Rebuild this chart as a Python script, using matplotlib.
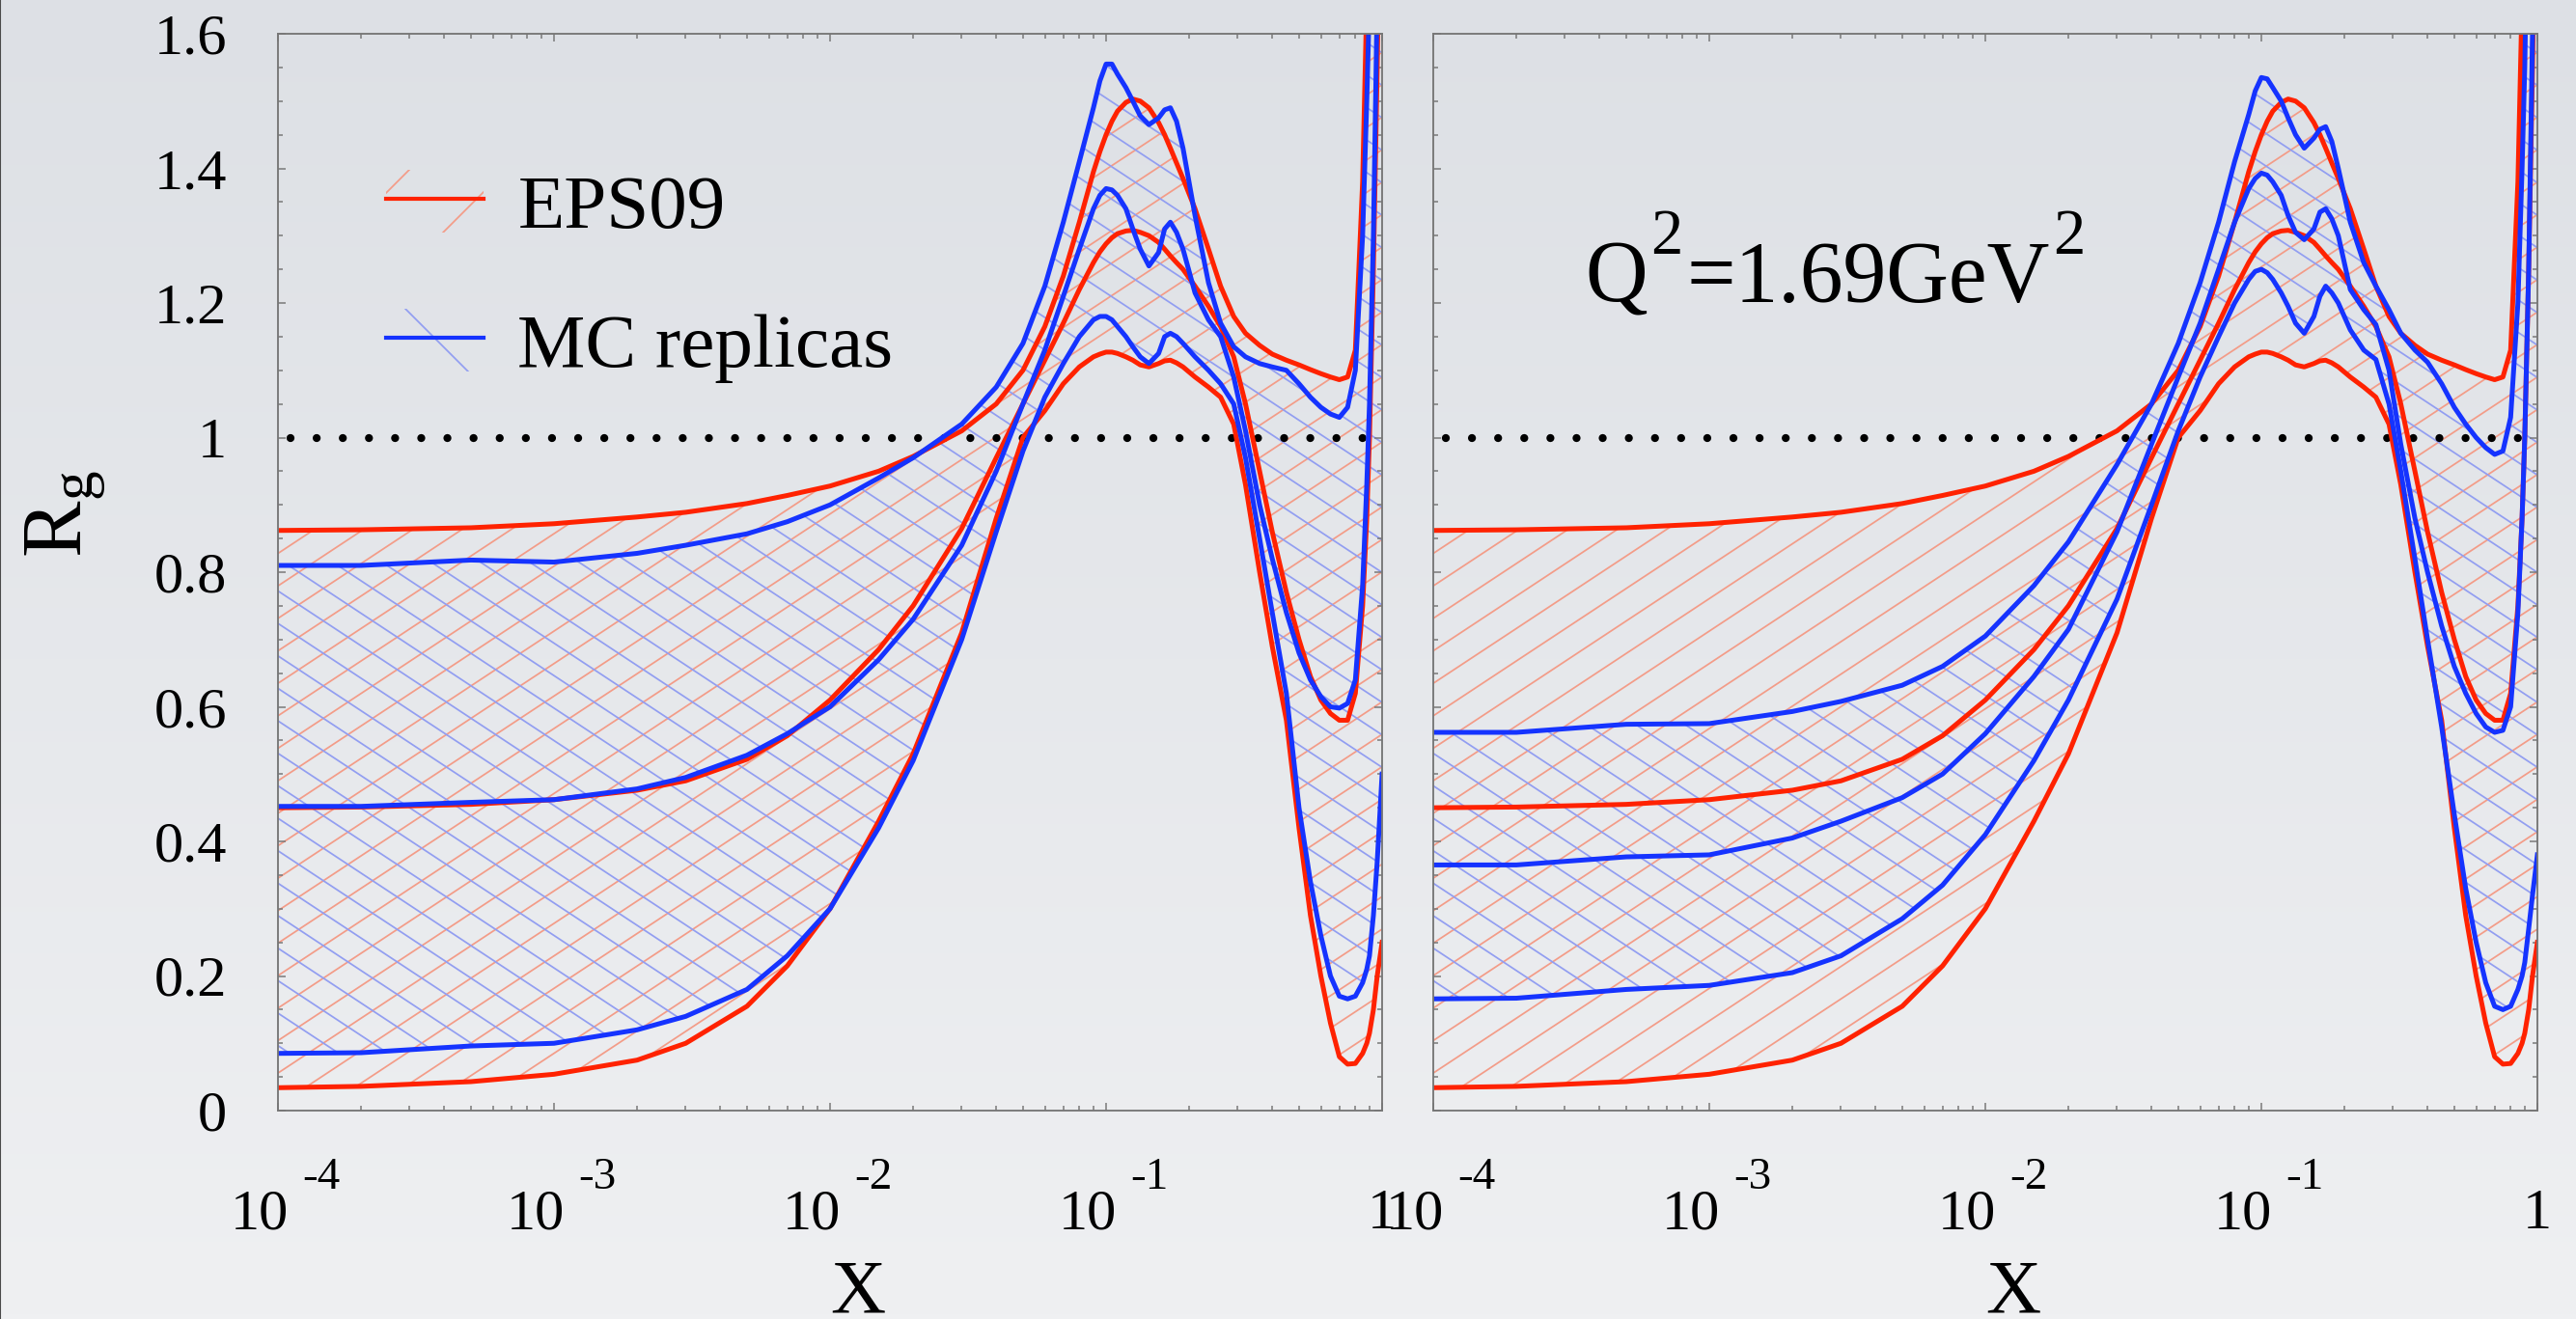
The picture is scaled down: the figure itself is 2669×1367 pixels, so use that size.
import numpy as np
import matplotlib
matplotlib.use("Agg")
import matplotlib.pyplot as plt
from matplotlib.lines import Line2D
from matplotlib.patches import Patch
from matplotlib.collections import LineCollection
from matplotlib.legend_handler import HandlerTuple
from matplotlib.ticker import FixedLocator, FixedFormatter, LogLocator, NullFormatter, MultipleLocator
from matplotlib.colors import LinearSegmentedColormap

# ---------------- data ----------------
X = [1e-4, 2e-4, 5e-4, 1e-3, 2e-3, 3e-3, 5e-3, 7e-3, 0.01, 0.015, 0.02, 0.03, 0.04,
     0.05, 0.06, 0.07, 0.08, 0.09, 0.095, 0.1, 0.105, 0.11, 0.118, 0.125, 0.133, 0.143,
     0.155, 0.163, 0.171, 0.18, 0.19, 0.21, 0.235, 0.26, 0.29, 0.32, 0.36, 0.4, 0.45,
     0.5, 0.55, 0.6, 0.65, 0.7, 0.75, 0.8, 0.85, 0.88, 0.9, 0.93, 0.96, 1.0]

EPS09_UPPER = [0.862, 0.863, 0.866, 0.872, 0.882, 0.889, 0.902, 0.914, 0.928, 0.95, 0.972, 1.01, 1.05,
               1.10, 1.165, 1.24, 1.32, 1.395, 1.425, 1.45, 1.47, 1.485, 1.498, 1.503, 1.50, 1.49,
               1.468, 1.45, 1.43, 1.408, 1.385, 1.34, 1.28, 1.225, 1.18, 1.155, 1.137, 1.124, 1.115,
               1.108, 1.101, 1.095, 1.09, 1.086, 1.09, 1.13, 1.38, 1.65, 1.9, 2.3, 2.6, 3.0]
EPS09_CENTRAL = [0.45, 0.451, 0.455, 0.462, 0.476, 0.49, 0.522, 0.557, 0.61, 0.685, 0.75, 0.865, 0.97,
                 1.05, 1.115, 1.17, 1.22, 1.26, 1.276, 1.288, 1.297, 1.303, 1.307, 1.308, 1.305, 1.30,
                 1.29, 1.28, 1.27, 1.26, 1.25, 1.225, 1.195, 1.165, 1.12, 1.05, 0.95, 0.86, 0.77,
                 0.70, 0.645, 0.61, 0.59, 0.58, 0.58, 0.62, 0.75, 0.88, 1.0, 1.25, 1.55, 2.0]
EPS09_LOWER = [0.034, 0.036, 0.043, 0.054, 0.075, 0.10, 0.155, 0.215, 0.30, 0.43, 0.53, 0.71, 0.88,
               1.0, 1.04, 1.08, 1.105, 1.12, 1.124, 1.127, 1.127, 1.125, 1.12, 1.115, 1.108, 1.105,
               1.11, 1.114, 1.115, 1.111, 1.105, 1.09, 1.075, 1.06, 1.02, 0.93, 0.80, 0.69, 0.58,
               0.42, 0.29, 0.20, 0.13, 0.08, 0.069, 0.07, 0.085, 0.10, 0.115, 0.15, 0.20, 0.25]

MC_LEFT_UPPER = [0.81, 0.81, 0.818, 0.815, 0.828, 0.84, 0.857, 0.875, 0.90, 0.94, 0.97, 1.02, 1.075,
                 1.14, 1.225, 1.32, 1.41, 1.49, 1.53, 1.555, 1.555, 1.54, 1.52, 1.50, 1.478, 1.465,
                 1.475, 1.487, 1.49, 1.47, 1.43, 1.33, 1.23, 1.17, 1.135, 1.12, 1.11, 1.105, 1.10,
                 1.08, 1.06, 1.045, 1.035, 1.03, 1.045, 1.10, 1.30, 1.50, 1.65, 2.0, 2.4, 2.8]
MC_LEFT_CENTRAL = [0.452, 0.452, 0.458, 0.462, 0.478, 0.495, 0.528, 0.56, 0.60, 0.67, 0.73, 0.84, 0.95,
                   1.05, 1.13, 1.21, 1.28, 1.34, 1.36, 1.37, 1.368, 1.36, 1.34, 1.31, 1.28, 1.255,
                   1.275, 1.31, 1.32, 1.305, 1.28, 1.215, 1.175, 1.15, 1.09, 1.01, 0.90, 0.82, 0.74,
                   0.68, 0.64, 0.615, 0.60, 0.598, 0.605, 0.64, 0.78, 0.93, 1.05, 1.30, 1.65, 2.0]
MC_LEFT_LOWER = [0.085, 0.086, 0.096, 0.10, 0.12, 0.14, 0.18, 0.23, 0.30, 0.42, 0.52, 0.70, 0.86,
                 0.98, 1.06, 1.11, 1.15, 1.175, 1.18, 1.18, 1.175, 1.165, 1.15, 1.135, 1.12, 1.11,
                 1.125, 1.15, 1.155, 1.15, 1.14, 1.12, 1.10, 1.08, 1.05, 0.97, 0.85, 0.74, 0.62,
                 0.45, 0.34, 0.26, 0.20, 0.17, 0.166, 0.17, 0.19, 0.21, 0.23, 0.29, 0.37, 0.50]

MC_RIGHT_UPPER = [0.562, 0.562, 0.574, 0.575, 0.593, 0.608, 0.632, 0.66, 0.705, 0.78, 0.845, 0.96, 1.05,
                  1.14, 1.23, 1.32, 1.41, 1.48, 1.515, 1.535, 1.533, 1.52, 1.50, 1.475, 1.45, 1.43,
                  1.445, 1.458, 1.462, 1.44, 1.40, 1.32, 1.26, 1.225, 1.19, 1.155, 1.13, 1.112, 1.08,
                  1.045, 1.02, 1.0, 0.985, 0.975, 0.98, 1.03, 1.20, 1.40, 1.55, 1.90, 2.3, 2.7]
MC_RIGHT_CENTRAL = [0.365, 0.365, 0.377, 0.38, 0.405, 0.43, 0.465, 0.50, 0.56, 0.645, 0.715, 0.86, 0.99,
                    1.09, 1.17, 1.25, 1.32, 1.37, 1.385, 1.393, 1.39, 1.38, 1.36, 1.33, 1.305, 1.294,
                    1.31, 1.335, 1.34, 1.325, 1.30, 1.22, 1.19, 1.168, 1.10, 0.99, 0.88, 0.80, 0.72,
                    0.66, 0.62, 0.59, 0.57, 0.562, 0.565, 0.60, 0.74, 0.88, 1.0, 1.25, 1.6, 2.0]
MC_RIGHT_LOWER = [0.166, 0.167, 0.18, 0.186, 0.205, 0.23, 0.285, 0.335, 0.41, 0.52, 0.61, 0.76, 0.90,
                  1.01, 1.09, 1.15, 1.20, 1.235, 1.247, 1.25, 1.245, 1.235, 1.215, 1.195, 1.17, 1.155,
                  1.18, 1.21, 1.225, 1.215, 1.20, 1.16, 1.13, 1.116, 1.05, 0.95, 0.82, 0.70, 0.57,
                  0.44, 0.33, 0.25, 0.19, 0.155, 0.15, 0.155, 0.18, 0.20, 0.22, 0.27, 0.32, 0.38]

Y_TICKS = [0, 0.2, 0.4, 0.6, 0.8, 1.0, 1.2, 1.4, 1.6]
Y_TICK_LABELS = ["0", "0.2", "0.4", "0.6", "0.8", "1", "1.2", "1.4", "1.6"]
X_DECADES = [1e-4, 1e-3, 1e-2, 1e-1]
X_DECADE_BASE = "10"
X_DECADE_EXPONENTS = ["-4", "-3", "-2", "-1"]
X_END = 1.0
X_END_LABEL = "1"
LEGEND_LABELS = ["EPS09", "MC replicas"]
Q2_PIECES = [("Q", False), ("2", True), ("=1.69GeV", False), ("2", True)]
Y_LABEL = r"$\mathregular{R_{g}}$"
X_LABEL = "X"

# ---------------- style ----------------
RED = "#ff2200"
BLUE = "#1533ff"
RED_HATCH = "#f39c88"
BLUE_HATCH = "#929ef1"
FRAME = "#777777"
HATCH_SPACING_PX = 51.0
HATCH_SLOPE = 0.66
HATCH_LW = 0.42

plt.rcParams["font.family"] = ["Liberation Serif", "DejaVu Serif"]
plt.rcParams["hatch.linewidth"] = HATCH_LW

DPI = 300
W, H = 2669, 1367
AX_W, AX_H = 1144, 1116
fig = plt.figure(figsize=(W / DPI, H / DPI), dpi=DPI)

# slide-like background gradient
bg = fig.add_axes([0, 0, 1, 1], zorder=-10)
grad = np.linspace(0, 1, 256).reshape(-1, 1)
cmap = LinearSegmentedColormap.from_list("bg", ["#dde0e5", "#eff0f2"])
bg.imshow(grad, aspect="auto", cmap=cmap, extent=[0, 1, 0, 1], origin="upper")
bg.set_axis_off()
fig.add_artist(Line2D([0.4 / W, 0.4 / W], [0, 1], color="#4a4a4a", lw=0.5, transform=fig.transFigure))

ax_bottom = (H - 1151) / H
axL = fig.add_axes([288 / W, ax_bottom, AX_W / W, AX_H / H])
axR = fig.add_axes([1485 / W, ax_bottom, AX_W / W, AX_H / H])


def hatched_band(ax, lower, upper, color, direction, z):
    """Fill between two curves with thin slanted lines (clipped to the band)."""
    poly = ax.fill_between(X, lower, upper, facecolor="none", edgecolor="none", linewidth=0)
    poly.set_visible(False)
    s = HATCH_SPACING_PX / AX_W
    k = HATCH_SLOPE * AX_W / AX_H
    segs = []
    if direction > 0:
        for x0 in np.arange(-1.0 / k - s, 1.0 + s, s):
            segs.append([(x0, 0.0), (x0 + 1.0 / k, 1.0)])
    else:
        for x0 in np.arange(0.0, 1.0 + 1.0 / k + s, s):
            segs.append([(x0, 0.0), (x0 - 1.0 / k, 1.0)])
    lc = LineCollection(segs, colors=color, linewidths=HATCH_LW, transform=ax.transAxes, zorder=z)
    ax.add_collection(lc)
    lc.set_clip_path(poly.get_paths()[0], ax.transData)


panels = [
    (axL, MC_LEFT_UPPER, MC_LEFT_CENTRAL, MC_LEFT_LOWER),
    (axR, MC_RIGHT_UPPER, MC_RIGHT_CENTRAL, MC_RIGHT_LOWER),
]

for ax, mu, mc, ml in panels:
    ax.set_facecolor("none")
    ax.set_xscale("log")
    ax.set_xlim(1e-4, 1)
    ax.set_ylim(0, 1.6)

    hatched_band(ax, EPS09_LOWER, EPS09_UPPER, RED_HATCH, +1, 1.0)
    hatched_band(ax, ml, mu, BLUE_HATCH, -1, 1.1)

    ax.axhline(1.0, color="black", lw=2.0, linestyle=(1.69, (0.001, 3.25)),
               dash_capstyle="round", zorder=1.5)

    for yv in (EPS09_UPPER, EPS09_CENTRAL, EPS09_LOWER):
        ax.plot(X, yv, color=RED, lw=1.2, zorder=2, solid_joinstyle="round")
    for yv in (mu, mc, ml):
        ax.plot(X, yv, color=BLUE, lw=1.2, zorder=2.1, solid_joinstyle="round")

    for s in ax.spines.values():
        s.set_color(FRAME)
        s.set_linewidth(0.45)

    ax.xaxis.set_major_locator(LogLocator(base=10, numticks=10))
    ax.xaxis.set_minor_locator(LogLocator(base=10, subs=np.arange(2, 10), numticks=100))
    ax.xaxis.set_major_formatter(NullFormatter())
    ax.xaxis.set_minor_formatter(NullFormatter())
    ax.yaxis.set_major_locator(FixedLocator(Y_TICKS))
    ax.yaxis.set_major_formatter(FixedFormatter(Y_TICK_LABELS))
    ax.yaxis.set_minor_locator(MultipleLocator(0.05))

    ax.tick_params(which="both", direction="in", top=True, right=True, color=FRAME, width=0.36)
    ax.tick_params(which="major", length=1.9)
    ax.tick_params(which="minor", length=1.2)
    ax.tick_params(axis="x", labelbottom=False)
    ax.tick_params(axis="y", labelsize=14.5, pad=12.7)

    tr = ax.get_xaxis_transform()
    for xd, ex in zip(X_DECADES, X_DECADE_EXPONENTS):
        ax.annotate(X_DECADE_BASE, xy=(xd, 0), xycoords=tr, xytext=(11, -122),
                    textcoords="offset pixels", ha="right", va="baseline",
                    fontsize=14.5, annotation_clip=False)
        ax.annotate(ex, xy=(xd, 0), xycoords=tr, xytext=(25, -81),
                    textcoords="offset pixels", ha="left", va="baseline",
                    fontsize=11.3, annotation_clip=False)
    ax.annotate(X_END_LABEL, xy=(X_END, 0), xycoords=tr, xytext=(0, -122),
                textcoords="offset pixels", ha="center", va="baseline",
                fontsize=14.5, annotation_clip=False)

    ax.set_xlabel(X_LABEL, fontsize=19)
    ax.xaxis.label.set_va("baseline")
    ax.xaxis.set_label_coords(0.525, -0.187)

axR.tick_params(axis="y", labelleft=False)

axL.set_ylabel(Y_LABEL, fontsize=21)
axL.yaxis.set_label_coords(-0.155, 0.554)

# Q^2 = 1.69 GeV^2 label, built from pieces so the superscripts sit high
FS_MAIN, FS_SUP = 21.5, 16.0
SUP_RAISE_PX = 55
base = axR.text(0.138, 0.751, Q2_PIECES[0][0], transform=axR.transAxes,
                fontsize=FS_MAIN, ha="left", va="baseline")
prev = base
for txt, is_sup in Q2_PIECES[1:]:
    if is_sup:
        prev = axR.annotate(txt, xy=(1, 0), xycoords=(prev, base), xytext=(3, SUP_RAISE_PX),
                            textcoords="offset pixels", ha="left", va="bottom",
                            fontsize=FS_SUP, annotation_clip=False)
    else:
        prev = axR.annotate(txt, xy=(1, 0), xycoords=(prev, base), xytext=(4, 0),
                            textcoords="offset pixels", ha="left", va="bottom",
                            fontsize=FS_MAIN, annotation_clip=False)

h_eps = (Patch(facecolor="none", edgecolor=RED_HATCH, hatch="/", linewidth=0),
         Line2D([], [], color=RED, lw=1.0))
h_mc = (Patch(facecolor="none", edgecolor=BLUE_HATCH, hatch="\\", linewidth=0),
        Line2D([], [], color=BLUE, lw=1.0))
axL.legend([h_eps, h_mc], LEGEND_LABELS, handler_map={tuple: HandlerTuple(ndivide=1)},
           loc="upper left", bbox_to_anchor=(0.098, 0.874), frameon=False,
           borderpad=0, borderaxespad=0, handlelength=1.27, handleheight=0.89,
           handletextpad=0.45, labelspacing=0.85, fontsize=19)

fig.savefig("out.png", dpi=DPI)
